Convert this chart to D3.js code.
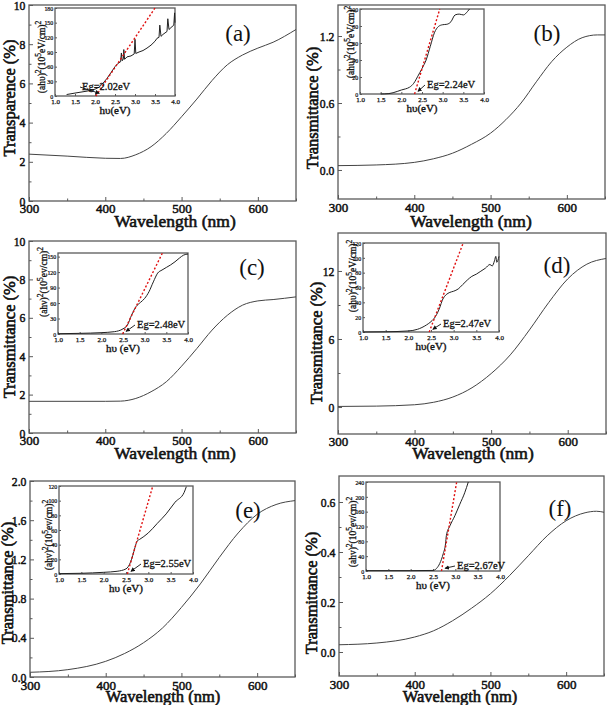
<!DOCTYPE html>
<html><head><meta charset="utf-8">
<script src="https://cdn.jsdelivr.net/npm/d3@7"></script>
<style>body{margin:0;background:#fff}svg{display:block}</style>
</head><body>
<script>
// ---------- data ----------
const panelLetters = ["(a)","(b)","(c)","(d)","(e)","(f)"];
const yTitles = ["Transparence (%)","Transmittance (%)","Transmittance (%)","Transmittance (%)","Transmittance (%)","Transmittance (%)"];
const xTitle = "Wavelength (nm)";
const insetXTitles = ["hυ(eV)","hυ(eV)","hυ (eV)","hυ(eV)","hυ (eV)","hυ (eV)"];
const egLabels = ["Eg=2.02eV","Eg=2.24eV","Eg=2.48eV","Eg=2.47eV","Eg=2.55eV","Eg=2.67eV"];
const xTicks = [300,400,500,600];
const xMinor = [350,450,550,650];
const insetXTicks = [1.0,1.5,2.0,2.5,3.0,3.5,4.0];

const aWave = [300,350,400,420,440,460,480,500,520,540,560,580,600,620,650];
const aT    = [2.39,2.29,2.18,2.17,2.36,2.77,3.45,4.3,5.2,6.15,6.95,7.45,7.8,8.1,8.75];
const bWave = [300,350,400,425,450,475,500,520,540,560,580,600,620,640,650];
const bT    = [0.039,0.045,0.068,0.1,0.15,0.23,0.33,0.45,0.6,0.79,0.97,1.1,1.185,1.21,1.21];
const cWave = [300,400,420,440,460,480,500,520,540,560,580,600,620,650];
const cT    = [1.65,1.65,1.66,1.8,2.15,2.67,3.48,4.4,5.36,6.13,6.66,6.88,6.95,7.09];
const dWave = [300,350,400,425,450,475,500,525,550,575,600,625,650];
const dT    = [0.05,0.08,0.2,0.42,0.88,1.7,2.95,4.6,6.8,9.2,11.3,12.6,13.1];
const eWave = [300,350,400,425,450,475,500,525,550,575,600,625,650];
const eT    = [0.048,0.075,0.16,0.24,0.35,0.5,0.71,0.95,1.22,1.47,1.66,1.76,1.8];
const fWave = [300,350,400,425,450,475,500,525,550,575,600,625,640,650];
const fT    = [0.029,0.036,0.06,0.085,0.125,0.175,0.233,0.305,0.385,0.465,0.525,0.557,0.563,0.559];

const aYTicks = [0,2,4,6,8,10],      aYMinor = [1,3,5,7,9];
const bYTicks = [0.0,0.6,1.2],       bYMinor = [0.3,0.9];
const cYTicks = [0,2,4,6,8,10],      cYMinor = [1,3,5,7,9];
const dYTicks = [0,6,12],            dYMinor = [3,9];
const eYTicks = [0.0,0.4,0.8,1.2,1.6,2.0], eYMinor = [0.2,0.6,1.0,1.4,1.8];
const fYTicks = [0.0,0.2,0.4,0.6],   fYMinor = [0.1,0.3,0.5];

const aE = [1.29,1.5,1.8,2.0,2.1,2.2,2.3,2.4,2.5,2.58,2.64,2.66,2.68,2.71,2.72,2.74,2.8,2.9,2.98,3.0,3.02,3.1,3.2,3.3,3.4,3.5,3.55,3.6,3.62,3.65,3.7,3.8,3.82,3.85,3.9,3.97,3.99,4.0];
const aA = [3,6,10,14,18,26,36,48,60,67,70,88,72,76,95,75,80,82,86,116,87,90,93,98,104,112,118,120,145,122,126,132,158,136,140,145,170,150];
const bE = [1.5,1.7,1.9,2.0,2.1,2.2,2.3,2.4,2.5,2.6,2.7,2.8,2.9,3.0,3.1,3.2,3.3,3.4,3.5,3.6,3.65];
const bA = [0,0.5,3,4.7,6,8,12.6,21,30,40,56,72,79.5,81.5,82,85,93,94,93,97,100];
const cE = [1.0,1.5,2.0,2.3,2.5,2.6,2.7,2.8,2.9,3.0,3.1,3.2,3.3,3.4,3.5,3.6,3.7,3.8,3.9,4.0];
const cA = [0.5,1.3,2.6,4.5,10,17,37,53,61,69,82,101,118,124,129,134,140,147,153,155];
const dE = [1.0,1.5,2.0,2.2,2.4,2.5,2.6,2.7,2.75,2.8,2.9,3.0,3.1,3.2,3.3,3.4,3.5,3.6,3.7,3.8,3.85,3.9,3.93,3.95,4.0];
const dA = [0,0.3,1.4,3.6,9.5,14,21,34,43,48,53,55,58,64,70,75,78,82,86,91,89,96,102,94,102];
const eE = [1.0,1.5,2.0,2.3,2.5,2.55,2.6,2.65,2.7,2.75,2.8,3.0,3.2,3.4,3.6,3.8,3.85];
const eA = [0.5,1,2.3,3.7,7,10,16,25,36,45,47,56,69,82,98,111,119];
const fE = [1.0,1.5,2.0,2.5,2.58,2.65,2.73,2.78,2.8,2.88,2.99,3.1,3.21,3.29];
const fA = [1,1,1,1.5,7,20,47,73,96,122,149,180,211,240];

const aFitE = [2.02,3.5],  aFitA = [0,180];
const bFitE = [2.32,2.93], bFitA = [0,100];
const cFitE = [2.49,3.41], cFitA = [0,157];
const dFitE = [2.46,3.21], dFitA = [0,120];
const eFitE = [2.53,3.1],  eFitA = [0,120];
const fFitE = [2.69,3.03], fFitA = [0,240];

const aInsetYTicks = [0,30,60,90,120,150,180];
const bInsetYTicks = [0,20,40,60,80,100];
const cInsetYTicks = [0,30,60,90,120,150];
const dInsetYTicks = [0,20,40,60,80,100,120];
const eInsetYTicks = [0,20,40,60,80,100,120];
const fInsetYTicks = [0,40,80,120,160,200,240];

// ---------- layout ----------
const panels = [
 {wave:aWave,t:aT,yT:aYTicks,yM:aYMinor,fmt:d3.format("d"),x:[29,296],y:[201,5],yd:[0,10],xpad:3,tfs:17.5,
  ins:{e:aE,a:aA,fe:aFitE,fa:aFitA,yt:aInsetYTicks,x:[55,175],y:[96,8],yd:[0,180],lab:[45,57],linear:true},
  letter:[238,41],yTitle:[15,98],xTitleXY:[175,227],eg:[82,90]},
 {wave:bWave,t:bT,yT:bYTicks,yM:bYMinor,fmt:d3.format(".1f"),x:[338,605],y:[199,5],yd:[-0.26,1.478],xpad:4,tfs:17.5,
  ins:{e:bE,a:bA,fe:bFitE,fa:bFitA,yt:bInsetYTicks,x:[360,484],y:[94,9],yd:[0,100],lab:[354,42]},
  letter:[547,41],yTitle:[318,108],xTitleXY:[471,227],eg:[427,88]},
 {wave:cWave,t:cT,yT:cYTicks,yM:cYMinor,fmt:d3.format("d"),x:[29,296],y:[433,241],yd:[0,10],xpad:3,tfs:17.5,
  ins:{e:cE,a:cA,fe:cFitE,fa:cFitA,yt:cInsetYTicks,x:[58,188],y:[334,253],yd:[0,157],lab:[47,282]},
  letter:[252,275],yTitle:[15,337],xTitleXY:[175,459],eg:[137,328]},
 {wave:dWave,t:dT,yT:dYTicks,yM:dYMinor,fmt:d3.format("d"),x:[338,606],y:[434,233],yd:[-2.38,15.35],xpad:3,tfs:17.5,
  ins:{e:dE,a:dA,fe:dFitE,fa:dFitA,yt:dInsetYTicks,x:[363,499],y:[332,243],yd:[0,120],lab:[356,276]},
  letter:[557,273],yTitle:[322,343],xTitleXY:[473,459],eg:[443,327]},
 {wave:eWave,t:eT,yT:eYTicks,yM:eYMinor,fmt:d3.format(".1f"),x:[30,295],y:[677,481],yd:[0,2],xpad:3.5,tfs:16.5,
  ins:{e:eE,a:eA,fe:eFitE,fa:eFitA,yt:eInsetYTicks,x:[59,193],y:[574,486],yd:[0,120],lab:[52,535]},
  letter:[248,518],yTitle:[13,583],xTitleXY:[163,701.5],eg:[143,567]},
 {wave:fWave,t:fT,yT:fYTicks,yM:fYMinor,fmt:d3.format(".1f"),x:[339,604],y:[676,476],yd:[-0.096,0.704],xpad:4,tfs:16.5,
  ins:{e:fE,a:fA,fe:fFitE,fa:fFitA,yt:fInsetYTicks,x:[366,500],y:[571,482],yd:[0,240],lab:[356,532]},
  letter:[560,516],yTitle:[317,593],xTitleXY:[460,701.5],eg:[457,569]}
];

const FONT = "'Liberation Serif','Times New Roman',Times,serif";
const svg = d3.select("body").append("svg").attr("width",609).attr("height",705)
  .style("font-family",FONT);
svg.append("defs").append("marker").attr("id","arr").attr("viewBox","0 0 6 6").attr("refX",5).attr("refY",3)
  .attr("markerWidth",5).attr("markerHeight",5).attr("orient","auto")
  .append("path").attr("d","M0,0L6,3L0,6Z").attr("fill","#111");

const frameCol = "#5a5a5a", lineCol = "#444";
// pseudo-bold: regular face with a thin stroke of the same colour
function bold(sel, w){ return sel.attr("font-weight","normal").attr("fill","#111").attr("stroke","#111").attr("stroke-width",w).attr("font-family",FONT); }

function frame(g, xs, ys){
  g.append("rect").attr("x",xs.range()[0]).attr("y",ys.range()[1])
   .attr("width",xs.range()[1]-xs.range()[0]).attr("height",ys.range()[0]-ys.range()[1])
   .attr("fill","none").attr("stroke",frameCol).attr("stroke-width",1.3);
}

panels.forEach((p,i)=>{
  const g = svg.append("g");
  const xs = d3.scaleLinear().domain([300,650]).range(p.x);
  const ys = d3.scaleLinear().domain(p.yd).range(p.y);
  g.append("g").attr("transform",`translate(0,${p.y[0]})`)
    .call(d3.axisBottom(xs).tickValues(xTicks).tickSize(-4).tickPadding(p.xpad).tickFormat(d3.format("d")));
  g.append("g").attr("transform",`translate(0,${p.y[0]})`)
    .call(d3.axisBottom(xs).tickValues(xMinor).tickSize(-2.5).tickFormat(""));
  g.append("g").attr("class","yax").attr("transform",`translate(${p.x[0]},0)`)
    .call(d3.axisLeft(ys).tickValues(p.yT).tickSize(-4).tickPadding(4).tickFormat(p.fmt));
  g.append("g").attr("transform",`translate(${p.x[0]},0)`)
    .call(d3.axisLeft(ys).tickValues(p.yM).tickSize(-2.5).tickFormat(""));
  g.selectAll(".domain").remove();
  g.selectAll(".tick line").attr("stroke",frameCol);
  bold(g.selectAll(".tick text").attr("font-size",13), 0.5);
  g.selectAll(".yax .tick text").attr("transform","scale(0.9,1)");
  frame(g, xs, ys);
  const pts = p.wave.map((w,k)=>[w,p.t[k]]);
  g.append("path").datum(pts).attr("fill","none").attr("stroke",lineCol).attr("stroke-width",1)
   .attr("d",d3.line().x(d=>xs(d[0])).y(d=>ys(d[1])).curve(d3.curveMonotoneX));
  bold(g.append("text").attr("x",p.xTitleXY[0]).attr("y",p.xTitleXY[1]).attr("text-anchor","middle")
   .attr("font-size",p.tfs).text(xTitle), 0.6);
  bold(g.append("text").attr("transform",`translate(${p.yTitle[0]},${p.yTitle[1]}) rotate(-90)`)
   .attr("text-anchor","middle").attr("font-size",16.5).text(yTitles[i]), 0.6);
  g.append("text").attr("x",p.letter[0]).attr("y",p.letter[1]).attr("text-anchor","middle")
   .attr("font-size",23).attr("fill","#111").text(panelLetters[i]);

  // inset
  const q = p.ins;
  const ix = d3.scaleLinear().domain([1,4]).range(q.x);
  const iy = d3.scaleLinear().domain(q.yd).range(q.y);
  const ig = svg.append("g");
  ig.append("rect").attr("x",q.x[0]).attr("y",q.y[1]).attr("width",q.x[1]-q.x[0]).attr("height",q.y[0]-q.y[1]).attr("fill","#fff");
  ig.append("g").attr("transform",`translate(0,${q.y[0]})`)
    .call(d3.axisBottom(ix).tickValues(insetXTicks).tickSize(-2).tickPadding(3).tickFormat(d3.format(".1f")));
  ig.append("g").attr("class","iyax").attr("transform",`translate(${q.x[0]},0)`)
    .call(d3.axisLeft(iy).tickValues(q.yt).tickSize(-2).tickPadding(2).tickFormat(d3.format("d")));
  ig.selectAll(".domain").remove();
  ig.selectAll(".tick line").attr("stroke",frameCol);
  bold(ig.selectAll(".tick text").attr("font-size",7), 0.25);
  ig.selectAll(".iyax .tick text").attr("transform","scale(0.85,1)");
  frame(ig, ix, iy);
  const ipts = q.e.map((e,k)=>[e,q.a[k]]);
  ig.append("path").datum(ipts).attr("fill","none").attr("stroke","#222").attr("stroke-width",1)
    .attr("d",d3.line().x(d=>ix(d[0])).y(d=>iy(d[1])).curve(q.linear?d3.curveLinear:d3.curveMonotoneX));
  const fpts = q.fe.map((e,k)=>[e,q.fa[k]]);
  ig.append("path").datum(fpts).attr("fill","none").attr("stroke","#e01010").attr("stroke-width",1.4)
    .attr("stroke-dasharray","2,2").attr("d",d3.line().x(d=>ix(d[0])).y(d=>iy(d[1])));
  bold(ig.append("text").attr("x",(q.x[0]+q.x[1])/2).attr("y",q.y[0]+18).attr("text-anchor","middle")
    .attr("font-size",11).text(insetXTitles[i]), 0.35);
  const yl = bold(ig.append("text").attr("transform",`translate(${q.lab[0]},${q.lab[1]}) rotate(-90)`)
    .attr("text-anchor","middle").attr("font-size",9.5), 0.3);
  yl.append("tspan").text(i===0||i===1||i===3?"(ahυ)":(i===2?"(ahν)":"(ahv)"));
  yl.append("tspan").attr("baseline-shift","super").attr("font-size",7.5).text("2");
  yl.append("tspan").text("(10");
  yl.append("tspan").attr("baseline-shift","super").attr("font-size",7.5).text("5");
  yl.append("tspan").text(i===0||i===1||i===3?"eV/cm)":"ev/cm)");
  yl.append("tspan").attr("baseline-shift","super").attr("font-size",7.5).text("2");
  const tipX = ix(q.fe[0]+0.06), tipY = iy(q.yd[1]*0.02);
  ig.append("line").attr("x1",p.eg[0]-2).attr("y1",p.eg[1]-3).attr("x2",tipX+1).attr("y2",tipY-1)
    .attr("stroke","#111").attr("stroke-width",0.9).attr("marker-end","url(#arr)");
  bold(ig.append("text").attr("x",p.eg[0]).attr("y",p.eg[1]).attr("font-size",10.5).text(egLabels[i]), 0.3);
});
</script>
</body></html>
